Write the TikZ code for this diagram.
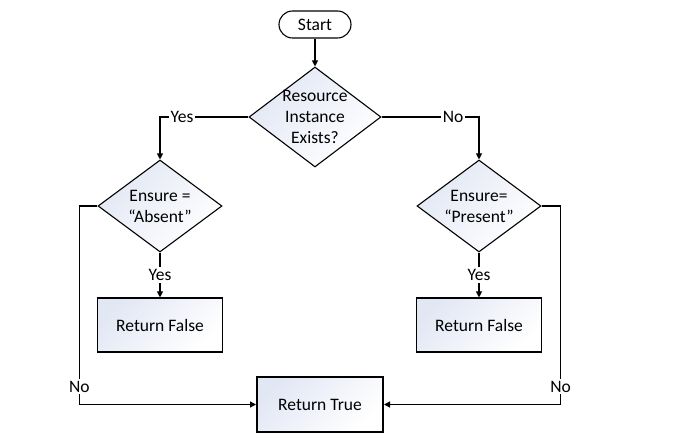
\documentclass[tikz,border=0pt]{standalone}
\usepackage{fontspec}
\setmainfont{Carlito}
\usepackage{tikz}
\usetikzlibrary{arrows.meta}
\usetikzlibrary{shapes}
\definecolor{fillblue}{RGB}{226,231,244}
\tikzset{
	every path/.style={line width=1.1pt},
	align=center,
	shaded/.style={
		top color=fillblue,
		bottom color=white,
		shading angle=45,
	},
	term/.style={
		draw,
		rectangle,
		rounded corners=13.5pt,
		minimum width=72pt,
		minimum height=27pt,
		fill=white,
	},
	dec/.style={
		draw,
		diamond,
		shaded,
		inner sep=0pt,
	},
	dectext/.style={
		align=center,
		inner sep=0pt,
	},
	proc/.style={
		draw,
		rectangle,
		shaded,
		minimum width=125pt,
		minimum height=54pt,
	},
	flow/.style={
		-{Triangle[length=6pt,width=6pt]}
	},
	lbl/.style={
		fill=white,
		inner sep=2pt,
	},
}

\begin{document}
\begin{tikzpicture}[
		x=1pt, y=-1pt,
		font=\fontsize{17.5}{21}\selectfont,
		dec/.append style={minimum width=124pt, minimum height=92pt},
	]
		\useasboundingbox (0,0) rectangle (689,446);

		\node[term]				(start) at (315,24.5) {Start};
		\node[dec, minimum width=132pt, minimum height=100pt,
			label={[dectext]center:{Resource\\Instance\\Exists?}}]	(exists) at (315,117) {};
		\node[dec, label={[dectext]center:{Ensure =\\“Absent”}}]		(ensabs) at (160,206) {};
		\node[dec, label={[dectext]center:{Ensure=\\“Present”}}]		(enspres) at (479,206) {};

		\node[proc]				(falseabs) at (160,325) {Return False};
		\node[proc]				(falsepres) at (479,325) {Return False};
		\node[proc, line width=2pt, minimum width=126pt, minimum height=55pt]	(true) at (320,404.5) {Return True};

		\draw[flow]				(start) -- (exists);
		\draw[flow]				(exists.west) -| node[lbl,pos=0.376]{Yes} (ensabs.north);
		\draw[flow]				(exists.east) -| node[lbl,pos=0.367]{No} (enspres.north);

		\draw[flow]				(ensabs) -- node[lbl]{Yes} (falseabs);
		\draw[flow]				(enspres) -- node[lbl]{Yes} (falsepres);

		\draw[flow]				(ensabs.west) -- ++(-18,0) |- node[lbl,pos=0.455]{No} (true.west);
		\draw[flow]				(enspres.east) -- ++(19,0) |- node[lbl,pos=0.455]{No} (true.east);

	\end{tikzpicture}
\end{document}
